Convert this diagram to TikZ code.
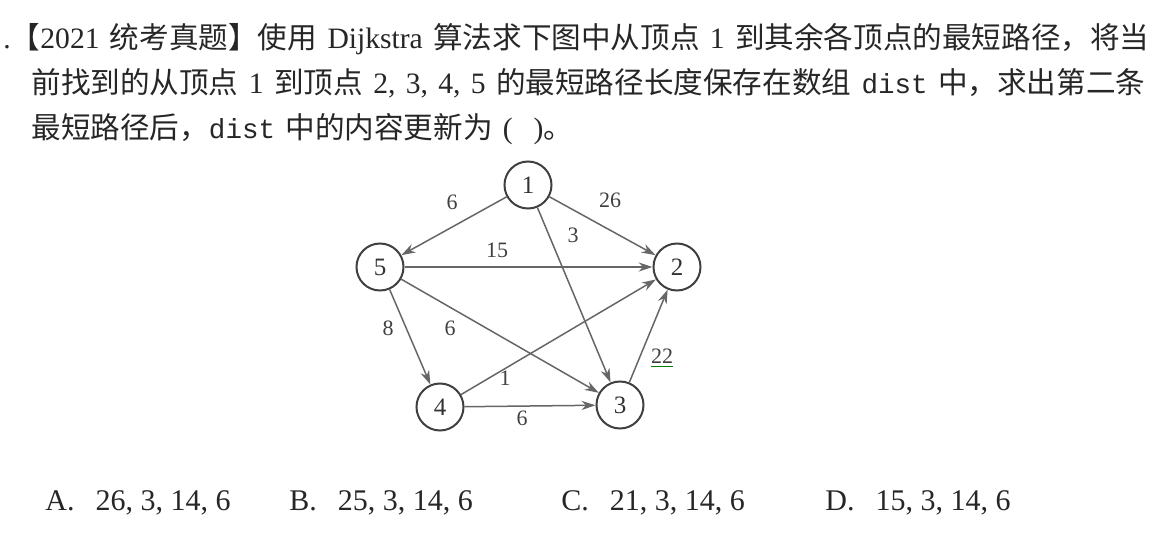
\documentclass[tikz,border=0pt]{standalone}
\usepackage{fontspec}
\setmainfont{Liberation Serif}
\setmonofont[Scale=0.93]{Liberation Mono}
\newfontfamily\cjk{Noto Sans CJK SC}
\usetikzlibrary{arrows.meta}
\newcommand\widesp{\spaceskip=0.35em\relax}

\tikzset{
  vertex/.style={circle, draw=black!75, line width=1pt, minimum size=23.5pt,
    inner sep=0pt, font=\fontsize{12.5}{12.5}\selectfont, text=black!80},
  arc/.style={draw=black!60, line width=0.75pt, -{Stealth[length=7pt,width=4.6pt]}},
  wt/.style={font=\fontsize{11}{11}\selectfont, text=black!75, inner sep=0pt},
  qline/.style={anchor=base west, inner sep=0pt, text=black!85,
    font=\fontsize{14.8}{18}\selectfont\widesp},
  choice/.style={anchor=base west, inner sep=0pt, text=black!85,
    font=\fontsize{15}{18}\selectfont},
}

\begin{document}
\begin{tikzpicture}[x=0.5pt,y=-0.5pt]
\useasboundingbox (0,0) rectangle (1175,534);
% ---- question text ----
\node[qline] (q1) at (3,49) {.{\cjk 【}2021 {\cjk 统考真题】使用} Dijkstra {\cjk 算法求下图中从顶点} 1 {\cjk 到其余各顶点的最短路径，将当}};
\node[qline] (q2) at (31,94) {{\cjk 前找到的从顶点} 1 {\cjk 到顶点} 2, 3, 4, 5 {\cjk 的最短路径长度保存在数组} \texttt{dist\ }{\cjk 中，求出第二条}};
\node[qline] (q3) at (31,139) {{\cjk 最短路径后，}\texttt{dist\ }{\cjk 中的内容更新为}\ (\ \ ){\cjk 。}};
% ---- graph ----
\node[vertex] (v1) at (528,185) {1};
\node[vertex] (v2) at (677,267) {2};
\node[vertex] (v3) at (620,405) {3};
\node[vertex] (v4) at (440,407) {4};
\node[vertex] (v5) at (380,267) {5};
\draw[arc] (v1) -- (v5);
\draw[arc] (v1) -- (v2);
\draw[arc] (v1) -- (v3);
\draw[arc] (v5) -- (v2);
\draw[arc] (v5) -- (v4);
\draw[arc] (v5) -- (v3);
\draw[arc] (v4) -- (v2);
\draw[arc] (v4) -- (v3);
\draw[arc] (v3) -- (v2);
% weights
\node[wt] (w15) at (452,202) {6};
\node[wt] (w12) at (610,200) {26};
\node[wt] (w13) at (573,235) {3};
\node[wt] (w52) at (497,250) {15};
\node[wt] (w54) at (388,328) {8};
\node[wt] (w53) at (450,328) {6};
\node[wt] (w32) at (662,356) {22};
\node[wt] (w42) at (505,378) {1};
\node[wt] (w43) at (522,418) {6};
\draw[green!50!black, line width=0.5pt] ([yshift=-1.5pt]w32.south west) -- ([yshift=-1.5pt]w32.south east);
% ---- choices ----
\node[choice] (ca) at (45,511) {A.\hspace{0.7em}26, 3, 14, 6};
\node[choice] (cb) at (289,511) {B.\hspace{0.7em}25, 3, 14, 6};
\node[choice] (cc) at (561,511) {C.\hspace{0.7em}21, 3, 14, 6};
\node[choice] (cd) at (825,511) {D.\hspace{0.7em}15, 3, 14, 6};
\end{tikzpicture}
\end{document}
